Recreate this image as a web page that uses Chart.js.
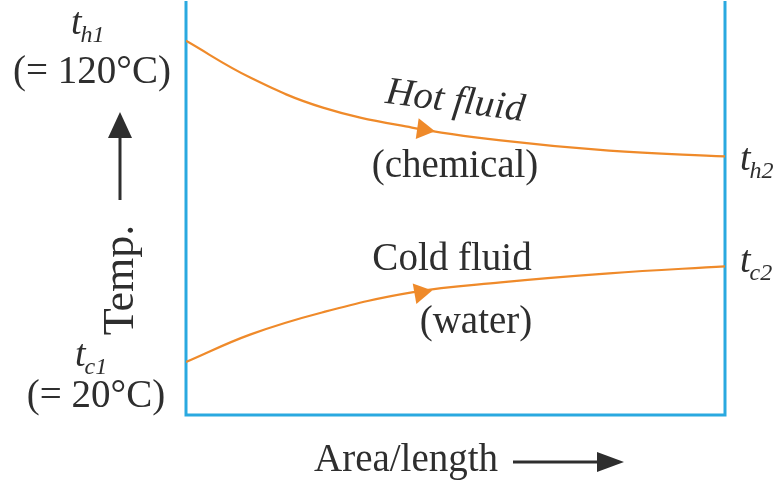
<!DOCTYPE html>
<html>
<head>
<meta charset="utf-8">
<script src="https://cdn.jsdelivr.net/npm/chart.js@4"></script>
<style>
  html, body { margin: 0; padding: 0; background: #fff; }
  .wrap { width: 779px; height: 484px; position: relative; }
</style>
</head>
<body>
<div class="wrap"><canvas id="profileChart"></canvas></div>
<script>
// ==========================
// DATA
// ==========================
// position along the exchanger (0 = inlet, 1 = outlet)
const areaFraction = [0, 0.12, 0.254, 0.419, 0.584, 0.785, 1];
const hotTemps = [120, 108.5, 99.2, 93.0, 89.0, 85.8, 84.0];
const coldTemps = [20, 28.6, 35.5, 41.7, 44.8, 47.6, 49.8];

// flow direction markers
const hotArrow = [{ x: 0.44, y: 92.4 }];
const coldArrow = [{ x: 0.435, y: 41.6 }];

const tempMin = 3.5;
const tempMax = 132.4;

// ==========================
// STYLE
// ==========================
const orange = "#ef8a2a";
const frameBlue = "#2aa9e0";
const ink = "#2e2e2e";
const serif = "'Liberation Serif', 'Times New Roman', serif";

const toPoints = (xs, ys) => xs.map((x, i) => ({ x, y: ys[i] }));

// ==========================
// FRAME + LABELS PLUGIN
// ==========================
function subLabel(ctx, x, y, main, sub) {
    ctx.font = `italic 38px ${serif}`;
    ctx.textAlign = "left";
    ctx.fillText(main, x, y);
    const w = ctx.measureText(main).width;
    ctx.font = `italic 24px ${serif}`;
    ctx.fillText(sub, x + w - 1, y + 8);
}

const diagramPlugin = {
    id: "diagram",
    beforeDatasetsDraw(chart) {
        const { ctx, chartArea: a } = chart;
        ctx.save();
        ctx.strokeStyle = frameBlue;
        ctx.lineWidth = 3;
        ctx.beginPath();
        ctx.moveTo(a.left, a.top);
        ctx.lineTo(a.left, a.bottom);
        ctx.lineTo(a.right, a.bottom);
        ctx.lineTo(a.right, a.top);
        ctx.stroke();
        ctx.restore();
    },
    afterDraw(chart) {
        const { ctx } = chart;
        ctx.save();
        ctx.fillStyle = ink;
        ctx.strokeStyle = ink;
        ctx.textBaseline = "alphabetic";

        // left side
        subLabel(ctx, 71, 34, "t", "h1");
        ctx.font = `39px ${serif}`;
        ctx.textAlign = "center";
        ctx.fillText("(= 120°C)", 92, 83);

        subLabel(ctx, 75, 366, "t", "c1");
        ctx.font = `39px ${serif}`;
        ctx.textAlign = "center";
        ctx.fillText("(= 20°C)", 96, 407);

        // right side
        subLabel(ctx, 740, 170, "t", "h2");
        subLabel(ctx, 740, 272, "t", "c2");

        // Temp. axis label with arrow
        ctx.save();
        ctx.translate(133, 280);
        ctx.rotate(-Math.PI / 2);
        ctx.font = `44px ${serif}`;
        ctx.textAlign = "center";
        ctx.fillText("Temp.", 0, 0);
        ctx.restore();

        ctx.lineWidth = 3;
        ctx.beginPath();
        ctx.moveTo(120, 200);
        ctx.lineTo(120, 132);
        ctx.stroke();
        ctx.beginPath();
        ctx.moveTo(120, 112);
        ctx.lineTo(108, 138);
        ctx.lineTo(132, 138);
        ctx.closePath();
        ctx.fill();

        // Area/length label with arrow
        ctx.font = `39px ${serif}`;
        ctx.textAlign = "left";
        ctx.fillText("Area/length", 314, 471);
        ctx.lineWidth = 3;
        ctx.beginPath();
        ctx.moveTo(513, 462);
        ctx.lineTo(600, 462);
        ctx.stroke();
        ctx.beginPath();
        ctx.moveTo(624, 462);
        ctx.lineTo(597, 452);
        ctx.lineTo(597, 472);
        ctx.closePath();
        ctx.fill();

        // curve annotations
        ctx.save();
        ctx.translate(455, 102);
        ctx.rotate(7.5 * Math.PI / 180);
        ctx.font = `italic 39px ${serif}`;
        ctx.textAlign = "center";
        ctx.fillText("Hot fluid", 0, 10);
        ctx.restore();

        ctx.font = `39px ${serif}`;
        ctx.textAlign = "center";
        ctx.fillText("(chemical)", 455, 177);
        ctx.fillText("Cold fluid", 452, 270);
        ctx.fillText("(water)", 476, 333);

        ctx.restore();
    }
};

// ==========================
// CHART
// ==========================
const canvas = document.getElementById("profileChart");

new Chart(canvas, {
    type: "line",
    data: {
        datasets: [
            {
                label: "Hot fluid (chemical)",
                data: toPoints(areaFraction, hotTemps),
                borderColor: orange,
                borderWidth: 2.2,
                pointRadius: 0,
                tension: 0.4,
                fill: false
            },
            {
                label: "Cold fluid (water)",
                data: toPoints(areaFraction, coldTemps),
                borderColor: orange,
                borderWidth: 2.2,
                pointRadius: 0,
                tension: 0.4,
                fill: false
            },
            {
                type: "scatter",
                label: "hot direction",
                data: hotArrow,
                pointStyle: "triangle",
                rotation: 98,
                pointRadius: 12,
                backgroundColor: orange,
                borderColor: orange,
                borderWidth: 0
            },
            {
                type: "scatter",
                label: "cold direction",
                data: coldArrow,
                pointStyle: "triangle",
                rotation: 80,
                pointRadius: 12,
                backgroundColor: orange,
                borderColor: orange,
                borderWidth: 0
            }
        ]
    },
    options: {
        responsive: true,
        maintainAspectRatio: false,
        animation: false,
        layout: {
            autoPadding: false,
            padding: { left: 186, right: 54, top: 1, bottom: 69 }
        },
        plugins: {
            legend: { display: false },
            tooltip: { enabled: false }
        },
        scales: {
            x: {
                type: "linear",
                min: 0,
                max: 1,
                display: false
            },
            y: {
                type: "linear",
                min: tempMin,
                max: tempMax,
                display: false
            }
        }
    },
    plugins: [diagramPlugin]
});
</script>
</body>
</html>
